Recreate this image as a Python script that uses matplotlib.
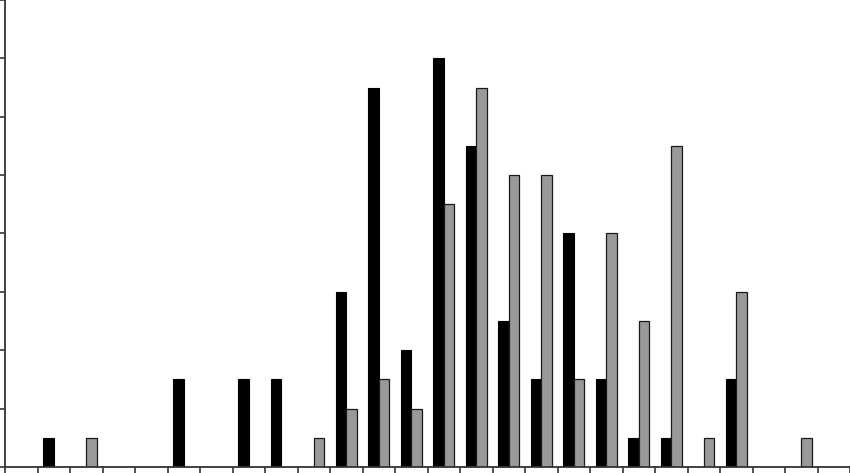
import numpy as np
import matplotlib
matplotlib.use('Agg')
import matplotlib.pyplot as plt

# 26 classes along x, two series per class
categories = list(range(26))
black_vals = [0, 1, 0, 0, 0, 3, 0, 3, 3, 0, 6, 13, 4, 14, 11, 5, 3, 8, 3, 1, 1, 0, 3, 0, 0, 0]
gray_vals = [0, 0, 1, 0, 0, 0, 0, 0, 0, 1, 2, 3, 2, 9, 13, 10, 10, 3, 8, 5, 11, 1, 6, 0, 1, 0]

fig = plt.figure(figsize=(8.5, 4.73), dpi=100)
ax = fig.add_axes([5 / 850, 6 / 473, 845 / 850, 467 / 473])

x = np.array(categories) + 0.5
w = 0.32
b = np.array(black_vals)
g = np.array(gray_vals)
mb = b > 0
mg = g > 0
ax.bar(x[mb] - w, b[mb], width=w, align='edge', color='black', edgecolor='black', linewidth=0.8)
ax.bar(x[mg], g[mg], width=w, align='edge', color='#999999', edgecolor='#1a1a1a', linewidth=0.9)

ax.set_xlim(0, 26)
ax.set_ylim(0, 16)
ax.set_xticks(np.arange(0, 27))
ax.set_yticks(np.arange(0, 17, 2))
ax.tick_params(axis='x', direction='out', length=6, width=1.1, color='#222222', labelbottom=False)
ax.tick_params(axis='y', direction='out', length=5, width=1.1, color='#222222', labelleft=False)
for s in ['top', 'right']:
    ax.spines[s].set_visible(False)
for s in ['left', 'bottom']:
    ax.spines[s].set_color('#333333')
    ax.spines[s].set_linewidth(1.3)

fig.savefig('out.png', dpi=100)
